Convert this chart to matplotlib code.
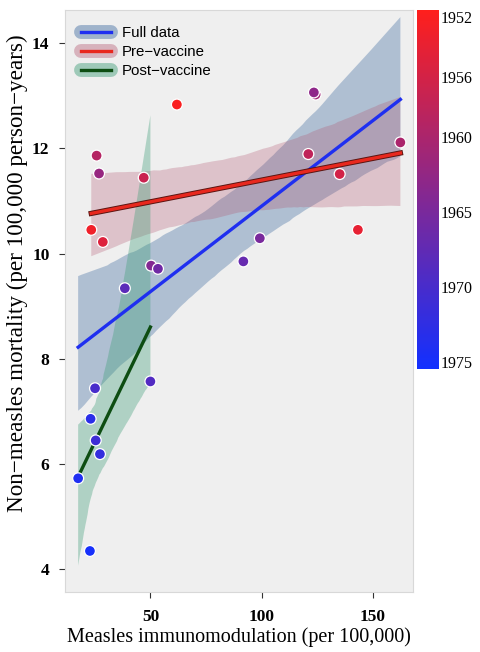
import numpy as np
import matplotlib
matplotlib.use("Agg")
import matplotlib.pyplot as plt
import matplotlib.patheffects as pe
import seaborn as sns
from matplotlib.colors import LinearSegmentedColormap, Normalize
from matplotlib.cm import ScalarMappable
from matplotlib.lines import Line2D

# ---- data: one observation per year ----
years = list(range(1952, 1976))
immunomodulation = [61.9, 23.4, 143.3, 28.6, 135.1, 47.0, 121.0, 25.8,
                    162.4, 124.3, 26.9, 123.5, 50.3, 99.2, 53.4, 91.8,
                    38.5, 50.0, 25.1, 25.4, 27.3, 23.1, 17.5, 22.8]
mortality = [12.83, 10.45, 10.45, 10.22, 11.51, 11.44, 11.89, 11.86,
             12.11, 13.02, 11.52, 13.06, 9.77, 10.29, 9.71, 9.85,
             9.34, 7.57, 7.44, 6.45, 6.19, 6.86, 5.73, 4.35]
vaccine_start = 1968

group_labels = ["Full data", "Pre\u2212vaccine", "Post\u2212vaccine"]
line_colors = ["#1f2ff0", "#e8281e", "#0d4d12"]
band_colors = ["#5078a8", "#b0506a", "#3f9e78"]
band_alphas = [0.40, 0.28, 0.36]

cbar_ticks = [1952, 1956, 1960, 1965, 1970, 1975]

x = np.array(immunomodulation)
y = np.array(mortality)
yr = np.array(years)
pre = yr < vaccine_start
post = ~pre

serif = "Liberation Serif"
sans = "Liberation Sans"

fig = plt.figure(figsize=(4.8, 6.52), dpi=100)
ax = fig.add_axes([0.135, 0.092, 0.726, 0.893])
ax.set_facecolor("#efefef")

subsets = [np.ones_like(pre), pre, post]
for mask, lc, bc, ba in zip(subsets, line_colors, band_colors, band_alphas):
    n_before = len(ax.collections)
    kws = dict(color=lc, lw=2.4, zorder=2.5)
    if lc == line_colors[1]:
        kws["path_effects"] = [pe.Stroke(linewidth=3.8, foreground="#5a1512"),
                               pe.Normal()]
    sns.regplot(x=x[mask], y=y[mask], ax=ax, scatter=False, ci=95,
                n_boot=1000, seed=3, color=bc, line_kws=kws)
    for coll in ax.collections[n_before:]:
        coll.set_facecolor(bc)
        coll.set_alpha(ba)
        coll.set_edgecolor("none")

cmap = LinearSegmentedColormap.from_list("year_rb", ["#ff1f1c", "#1230ff"])
norm = Normalize(vmin=1951.5, vmax=1975.5)
ax.scatter(x, y, c=yr, cmap=cmap, norm=norm, s=62, edgecolors="white",
           linewidths=0.9, zorder=4)

ax.set_xlim(11.5, 168.2)
ax.set_ylim(3.57, 14.63)
ax.set_xticks([50, 100, 150])
ax.set_yticks([4, 6, 8, 10, 12, 14])
for s in ax.spines.values():
    s.set_color("#d8d8d8")
    s.set_linewidth(0.8)
ax.tick_params(axis="both", length=4, width=0.8, color="#333333")
ax.tick_params(axis="x", pad=8)
ax.tick_params(axis="y", pad=7)
for lab in ax.get_xticklabels() + ax.get_yticklabels():
    lab.set_fontfamily(serif)
    lab.set_fontweight("bold")
    lab.set_fontsize(12.5)
ax.set_xlabel("Measles immunomodulation (per 100,000)", fontfamily=serif,
              fontsize=14.5, labelpad=2)
ax.set_ylabel("Non\u2212measles mortality (per 100,000 person\u2212years)",
              fontfamily=serif, fontsize=16.7, labelpad=3)
ax.yaxis.label.set_y(0.548)

handles = []
for lc, bc, ba in zip(line_colors, band_colors, band_alphas):
    band = Line2D([], [], color=bc, alpha=ba + 0.1, lw=10,
                  solid_capstyle="round")
    line = Line2D([], [], color=lc, lw=2.4)
    handles.append((band, line))
ax.legend(handles, group_labels, loc="upper left", frameon=False,
          handlelength=2.0, handletextpad=0.7, labelspacing=0.32,
          borderaxespad=0.7, prop={"family": sans, "size": 10.8})

cax = fig.add_axes([0.869, 0.434, 0.046, 0.551])
cb = fig.colorbar(ScalarMappable(norm=norm, cmap=cmap), cax=cax,
                  ticks=cbar_ticks)
cax.invert_yaxis()
cb.outline.set_visible(False)
cax.tick_params(length=0, pad=1)
for lab in cax.get_yticklabels():
    lab.set_fontfamily(serif)
    lab.set_fontsize(11.5)

fig.savefig("out.png", dpi=100)
